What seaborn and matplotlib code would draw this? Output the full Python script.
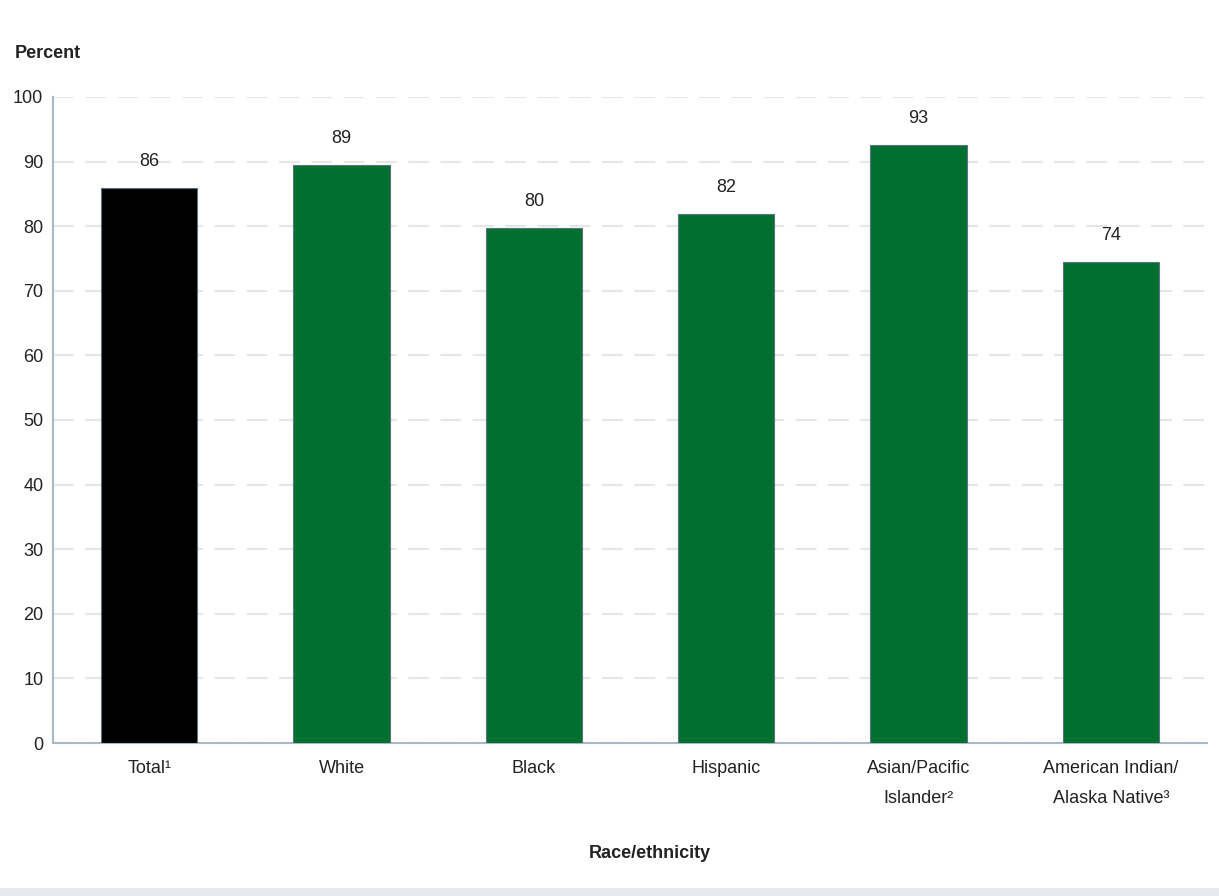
import matplotlib
matplotlib.use("Agg")
import matplotlib.pyplot as plt
from matplotlib.patches import Rectangle
import seaborn as sns
import pandas as pd

# Percentage by race/ethnicity
categories = ["Total\u00b9", "White", "Black", "Hispanic",
              "Asian/Pacific\nIslander\u00b2", "American Indian/\nAlaska Native\u00b3"]
percent = [85.9, 89.4, 79.7, 81.9, 92.6, 74.4]
bar_colors = ["#000000", "#007030", "#007030", "#007030", "#007030", "#007030"]
y_ticks = [0, 10, 20, 30, 40, 50, 60, 70, 80, 90, 100]

sns.set_theme(style="white")
plt.rcParams["font.family"] = ["Liberation Sans Narrow", "Liberation Sans", "DejaVu Sans"]

df = pd.DataFrame({"group": categories, "pct": percent})

fig = plt.figure(figsize=(12.19, 8.96), dpi=100)
ax = fig.add_axes([53 / 1219, (896 - 743) / 896, (1207 - 53) / 1219, (743 - 97) / 896])

sns.barplot(data=df, x="group", y="pct", hue="group", palette=bar_colors,
            legend=False, width=0.5, edgecolor="#5d7180", linewidth=0.8,
            saturation=1, ax=ax, zorder=3)

for i, v in enumerate(percent):
    ax.annotate(f"{v:.0f}", (i, v), xytext=(0, 13), textcoords="offset points",
                ha="center", va="bottom", fontsize=13, color="#222222")

ax.set_ylim(0, 100)
ax.set_xlim(-0.5, 5.5)
ax.set_yticks(y_ticks)
ax.yaxis.grid(True, color="#e6e6e6", linestyle=(0, (10, 5.5)), linewidth=1.5, zorder=0)
ax.xaxis.grid(False)
ax.tick_params(axis="y", length=0, pad=7, labelsize=13, colors="#222222")
ax.tick_params(axis="x", length=0, pad=12, labelsize=13, colors="#222222")
for lbl in ax.get_xticklabels():
    lbl.set_linespacing(2.0)
ax.set_xlabel("")
ax.set_ylabel("")

for side in ["top", "right"]:
    ax.spines[side].set_visible(False)
for side in ["left", "bottom"]:
    ax.spines[side].set_color("#a8b8c5")
    ax.spines[side].set_linewidth(1.5)

fig.text(15 / 1219, 1 - 53 / 896, "Percent", ha="left", va="center",
         fontsize=13, fontweight="bold", color="#222222")
fig.text(650 / 1219, 1 - 853 / 896, "Race/ethnicity", ha="center", va="center",
         fontsize=13, fontweight="bold", color="#222222")

fig.patches.append(Rectangle((0, 0), 1, 8 / 896, transform=fig.transFigure,
                             facecolor="#e6eaef", edgecolor="none", zorder=0))

fig.savefig("out.png", dpi=100, facecolor="white")
